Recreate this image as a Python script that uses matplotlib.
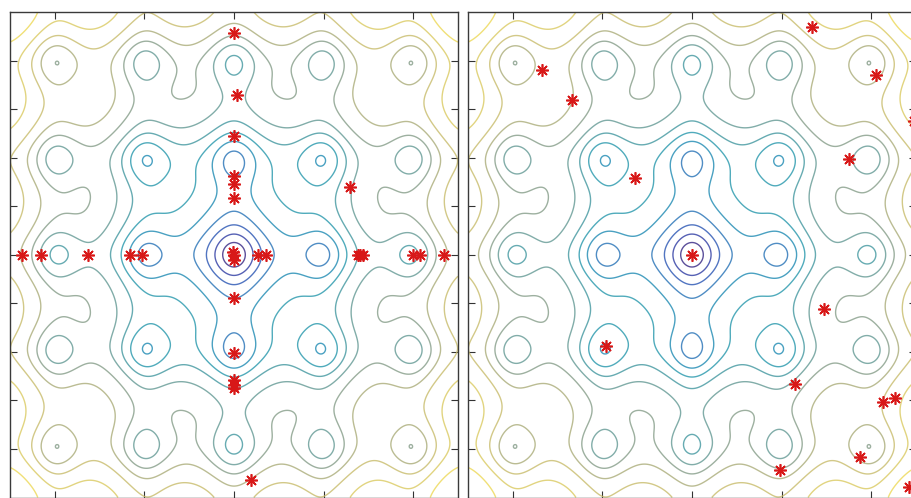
import numpy as np
import matplotlib
matplotlib.use("Agg")
import matplotlib.pyplot as plt
from matplotlib.colors import LinearSegmentedColormap

# Left panel particle positions
left_x = [0.0, 0.03, 0.0, 0.0, 0.0, 0.0, 1.30,
          -2.37, -2.15, -1.63, -1.16, -1.03, 0.0, 0.0, -0.01, 0.27, 0.36,
          1.38, 1.41, 1.44, 2.00, 2.08, 2.34,
          0.0, 0.0, 0.0, 0.0, 0.0, 0.19]
left_y = [2.285, 1.65, 1.22, 0.81, 0.73, 0.58, 0.70,
          0.0, 0.0, 0.0, 0.0, 0.0, 0.0, -0.05, 0.03, 0.0, 0.0,
          0.0, 0.0, 0.0, 0.0, 0.0, 0.0,
          -0.45, -1.01, -1.29, -1.34, -1.37, -2.32]

# Right panel particle positions
right_x = [1.34, -1.67, -1.34, 2.05, 2.48, 1.75, -0.64, 0.0,
           1.47, -0.96, 1.15, 2.13, 2.27, 1.88, 0.98, 2.42]
right_y = [2.35, 1.90, 1.59, 1.85, 1.38, 0.99, 0.79, 0.0,
           -0.56, -0.94, -1.33, -1.52, -1.48, -2.08, -2.22, -2.39]

lim = 2.5
n_levels = 13

cmap = LinearSegmentedColormap.from_list("muted_parula", [
    (0.0, (0.22, 0.16, 0.52)),
    (0.12, (0.18, 0.28, 0.70)),
    (0.25, (0.16, 0.46, 0.72)),
    (0.38, (0.12, 0.60, 0.70)),
    (0.52, (0.30, 0.60, 0.62)),
    (0.66, (0.52, 0.62, 0.55)),
    (0.80, (0.76, 0.72, 0.45)),
    (1.0, (0.93, 0.85, 0.35))])

g = np.linspace(-lim, lim, 501)
X, Y = np.meshgrid(g, g)
Z = (-20 * np.exp(-0.2 * np.sqrt(0.5 * (X**2 + Y**2)))
     - np.exp(0.5 * (np.cos(2 * np.pi * X) + np.cos(2 * np.pi * Y))) + np.e + 20)
levels = np.linspace(Z.min(), Z.max(), n_levels + 2)[1:-1]

fig = plt.figure(figsize=(9.11, 4.98), dpi=100)
W, H = 911, 498
ax1 = fig.add_axes([10 / W, 1 - 497.5 / H, 448 / W, 485.5 / H])
ax2 = fig.add_axes([468 / W, 1 - 497.5 / H, 448 / W, 485.5 / H])

for ax, px, py in [(ax1, left_x, left_y), (ax2, right_x, right_y)]:
    ax.contour(X, Y, Z, levels=levels, cmap=cmap, linewidths=1.0, alpha=0.82)
    ax.plot(px, py, linestyle='none', marker=(8, 2, 0), markersize=9,
            markeredgewidth=1.2, color='#d81818')
    ax.set_xlim(-lim, lim)
    ax.set_ylim(-lim, lim)
    ax.set_xticks([-2, -1, 0, 1, 2])
    ax.set_yticks(np.arange(-2, 2.01, 0.5))
    ax.tick_params(direction='in', top=True, right=True, length=5, width=0.8,
                   color='#333333', labelbottom=False, labelleft=False)
    for s in ax.spines.values():
        s.set_color('#3a3a3a')
        s.set_linewidth(1.0)

fig.savefig("out.png", dpi=100)
